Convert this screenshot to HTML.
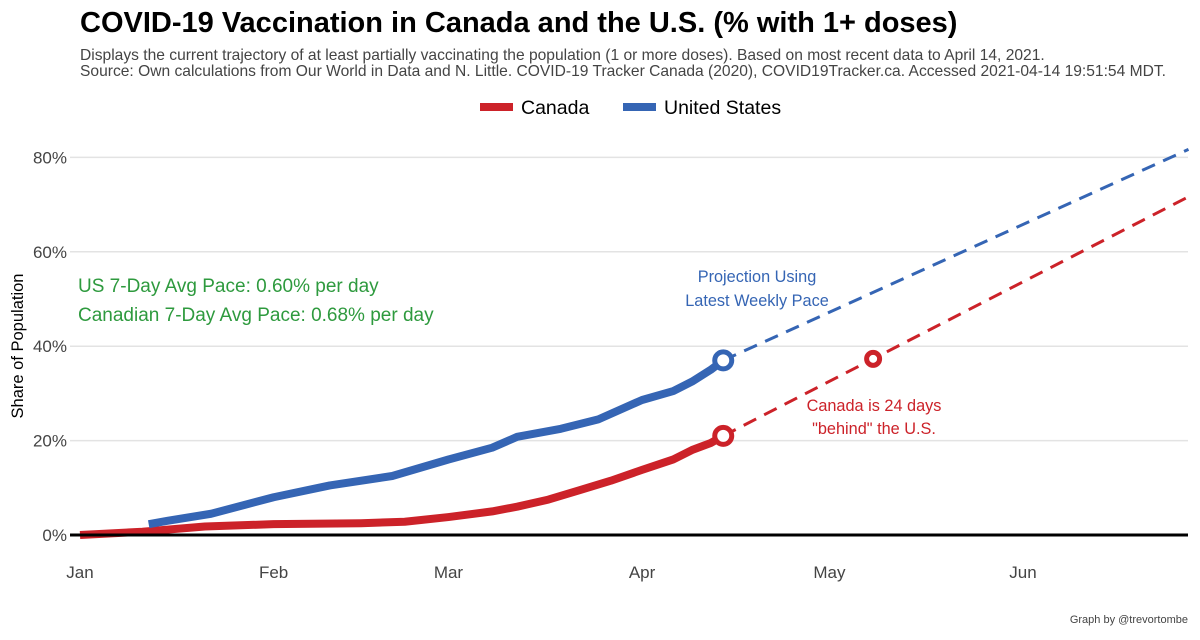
<!DOCTYPE html>
<html><head><meta charset="utf-8"><style>
body{margin:0;background:#fff;font-family:"Liberation Sans",sans-serif}
svg text{font-family:"Liberation Sans",sans-serif}
</style></head><body>
<svg width="1200" height="635">
<text x="80" y="32" font-size="29" font-weight="bold" fill="#000">COVID-19 Vaccination in Canada and the U.S. (% with 1+ doses)</text>
<text x="80" y="60" font-size="15.6" fill="#444">Displays the current trajectory of at least partially vaccinating the population (1 or more doses). Based on most recent data to April 14, 2021.</text>
<text x="80" y="76" font-size="15.6" fill="#444">Source: Own calculations from Our World in Data and N. Little. COVID-19 Tracker Canada (2020), COVID19Tracker.ca. Accessed 2021-04-14 19:51:54 MDT.</text>
<g>
<rect x="480" y="103" width="33" height="8" fill="#cc2229"/>
<text x="521" y="114" font-size="19.5">Canada</text>
<rect x="623" y="103" width="33" height="8" fill="#3565b4"/>
<text x="664" y="114" font-size="19.5">United States</text>
</g>
<g id="grid"></g>
<g id="marks"></g>
<text transform="translate(23,346) rotate(-90)" text-anchor="middle" font-size="16.5">Share of Population</text>
<text x="78" y="292" font-size="19" fill="#2e9a3e">US 7-Day Avg Pace: 0.60% per day</text>
<text x="78" y="321" font-size="19" fill="#2e9a3e">Canadian 7-Day Avg Pace: 0.68% per day</text>
<text x="757" y="282" font-size="16.3" fill="#3565b4" text-anchor="middle">Projection Using</text>
<text x="757" y="306" font-size="16.3" fill="#3565b4" text-anchor="middle">Latest Weekly Pace</text>
<text x="874" y="411" font-size="16.3" fill="#cc2229" text-anchor="middle">Canada is 24 days</text>
<text x="874" y="434" font-size="16.3" fill="#cc2229" text-anchor="middle">"behind" the U.S.</text>
<text x="1188" y="623" font-size="11" fill="#444" text-anchor="end">Graph by @trevortombe</text>
</svg>
<script>
const yTicks=[0,20,40,60,80];
const monthLabels=["Jan","Feb","Mar","Apr","May","Jun"];
const monthDays=[0,31,59,90,120,151];
const usDays=[11,14,21,31,40,50,59,66,70,77,83,90,95,98,101,103];
const usVals=[2.3,3,4.5,8,10.5,12.5,16,18.5,20.8,22.5,24.5,28.6,30.5,32.5,35,37];
const caDays=[0,10,20,31,45,52,59,66,70,75,80,85,90,95,98,101,103];
const caVals=[0,0.7,1.8,2.3,2.5,2.8,3.8,5,6,7.5,9.5,11.5,13.8,16,18,19.5,21];
const usPace=0.60, caPace=0.68, endDay=177.5, caMatchDay=127;
const x=d=>80+d*6.245, y=v=>535-v*4.72;
const NS="http://www.w3.org/2000/svg";
function mk(t,a,p){const e=document.createElementNS(NS,t);for(const k in a)e.setAttribute(k,a[k]);document.getElementById(p).appendChild(e);return e;}
yTicks.forEach(v=>{
 const l=mk("line",{x1:70,x2:1188,y1:y(v),y2:y(v),stroke:"#e3e3e3","stroke-width":1.5},"grid");
 
 
 const t=mk("text",{x:67,y:y(v)+6,"font-size":17,fill:"#444","text-anchor":"end"},"grid");t.textContent=v+"%";
 
 
});
monthLabels.forEach((m,i)=>{
 const t=mk("text",{x:x(monthDays[i]),y:578,"font-size":17,fill:"#444","text-anchor":"middle"},"grid");t.textContent=m;
 
 
});
function line(ds,vs,c,n){const p=mk("polyline",{points:ds.map((d,i)=>x(d)+","+y(vs[i])).join(" "),fill:"none",stroke:c,"stroke-width":8,"stroke-linejoin":"round"},"marks");
 
 }
function proj(d0,v0,r,c,n){const p=mk("line",{x1:x(d0),y1:y(v0),x2:x(endDay),y2:y(v0+r*(endDay-d0)),stroke:c,"stroke-width":3,"stroke-dasharray":"14,9"},"marks");
 
 }
const ld=caDays[caDays.length-1];
proj(ld,usVals[usVals.length-1],usPace,"#3565b4","us-projection");
proj(ld,caVals[caVals.length-1],caPace,"#cc2229","canada-projection");
line(caDays,caVals,"#cc2229","canada-line");
line(usDays,usVals,"#3565b4","us-line");
const ax=mk("line",{x1:70,x2:1188,y1:y(0),y2:y(0),stroke:"#000","stroke-width":3},"marks");


function circ(d,v,c,r,n){const e=mk("circle",{cx:x(d),cy:y(v),r:r,fill:"#fff",stroke:c,"stroke-width":5},"marks");
 
 }
circ(ld,usVals[usVals.length-1],"#3565b4",8.5,"us-latest-point");
circ(ld,caVals[caVals.length-1],"#cc2229",8.5,"canada-latest-point");
circ(caMatchDay,caVals[caVals.length-1]+caPace*(caMatchDay-ld),"#cc2229",6.5,"canada-catchup-point");
</script>
</body></html>
